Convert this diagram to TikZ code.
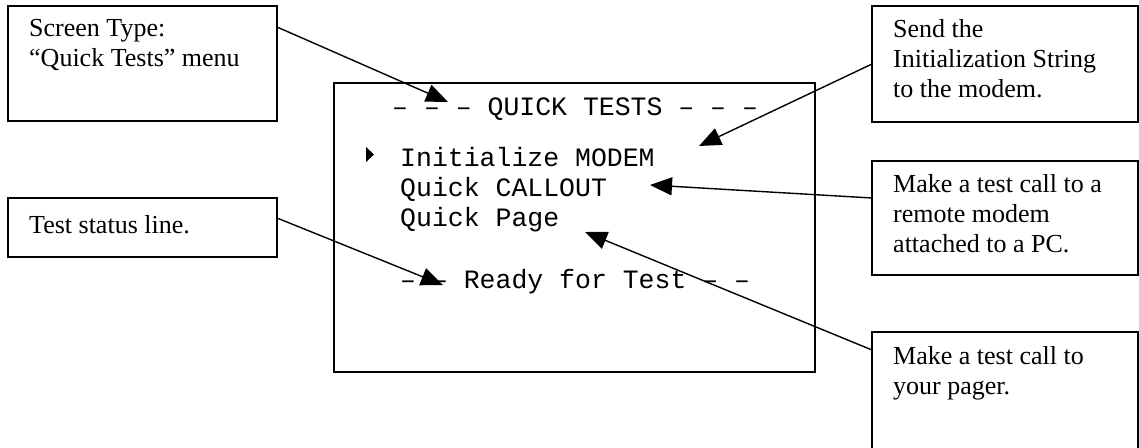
\documentclass[tikz,border=0pt]{standalone}
\usepackage{fontspec}
\setmainfont{Liberation Serif}
\setmonofont{Liberation Mono}
\usetikzlibrary{arrows.meta}
\usetikzlibrary{positioning}

\tikzset{
  box/.style={draw, line width=1.4pt, minimum width=269pt, inner sep=0pt, outer sep=0pt},
  note/.style={anchor=north west, inner sep=0pt, align=left,
    font=\fontsize{26}{30}\selectfont, execute at begin node=\strut},
  scr/.style={inner sep=0pt, align=left, font=\ttfamily\fontsize{26.5}{30}\selectfont},
  pointer/.style={line width=1.4pt, -{Triangle[length=22pt,width=18pt]}},
}

\begin{document}
\begin{tikzpicture}[x=1pt, y=-1pt]
    \clip (0,0) rectangle (1139,447);

    % left notes
    \node[box, minimum height=115pt, anchor=north west] (boxtype) at (8,6) {};
    \node[box, minimum height=59pt, below=77pt of boxtype] (boxstatus) {};
    \node[note] (txttype) at (29,19) {Screen Type:\\“Quick Tests” menu};
    \node[note] (txtstatus) at (29,212) {Test status line.};

    % the screen
    \node[box, minimum width=481pt, minimum height=289pt, anchor=north west] (screen) at (334,83) {};
    \node[scr, anchor=base west] (title) at (392,115) {– – – QUICK TESTS – – –};
    \fill (366,147) -- (374,154.5) -- (366,162) -- cycle;
    \node[scr, anchor=north west, execute at begin node=\strut] (menu) at (400,147)
      {Initialize MODEM\\Quick CALLOUT\\Quick Page};
    \node[scr, anchor=base west] (ready) at (400,288) {– – Ready for Test – –};

    % right notes
    \node[box, minimum width=266pt, minimum height=116pt, anchor=north west] (boxinit) at (872,6) {};
    \node[box, minimum width=266pt, minimum height=114pt, below=39pt of boxinit] (boxcall) {};
    \node[box, minimum width=266pt, minimum height=140pt, below=57pt of boxcall] (boxpage) {};
    \node[note] (txtinit) at (893,19) {Send the\\Initialization String\\to the modem.};
    \node[note] (txtcall) at (893,174) {Make a test call to a\\remote modem\\attached to a PC.};
    \node[note] (txtpage) at (893,346) {Make a test call to\\your pager.};

    \coordinate (tipTitle) at (448,102);
    \coordinate (tipInit) at (699,146);
    \coordinate (tipCall) at (650,185);
    \coordinate (tipReady) at (443,285);
    \coordinate (tipPage) at (585,232);

    \draw[pointer] ([yshift=-21pt]boxtype.north east) -- (tipTitle);
    \draw[pointer] (boxinit.west) -- (tipInit);
    \draw[pointer] ([yshift=-37pt]boxcall.north west) -- (tipCall);
    \draw[pointer] ([yshift=-20pt]boxstatus.north east) -- (tipReady);
    \draw[pointer] ([yshift=-18pt]boxpage.north west) -- (tipPage);
\end{tikzpicture}
\end{document}
